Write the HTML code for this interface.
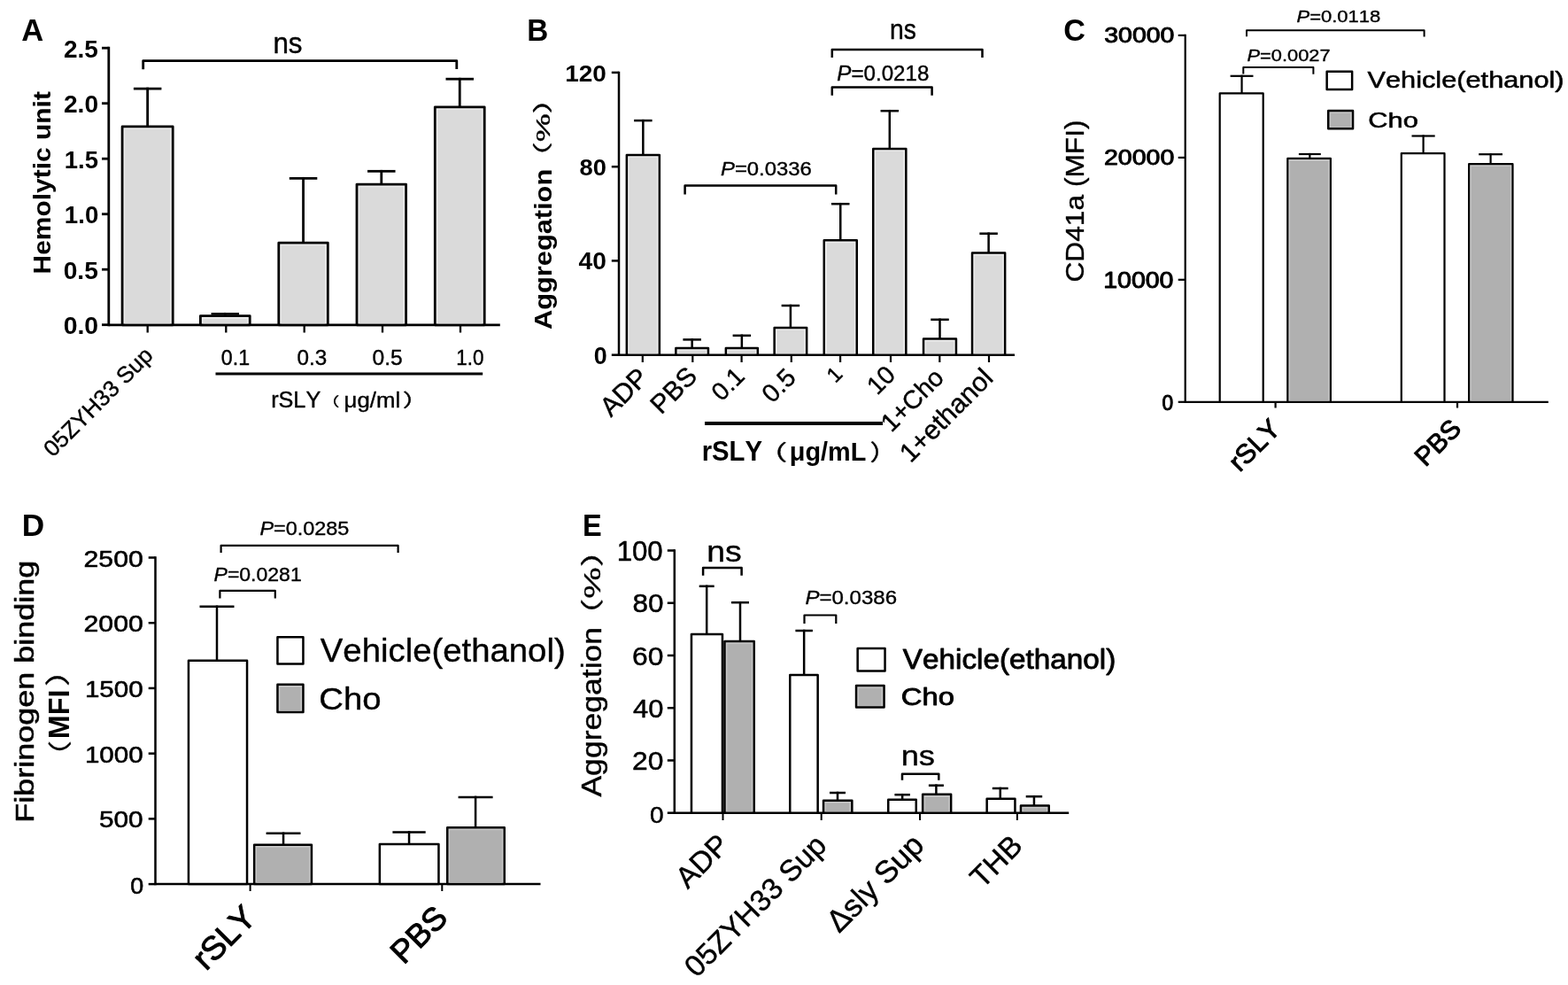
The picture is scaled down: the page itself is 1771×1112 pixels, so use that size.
<!DOCTYPE html>
<html><head><meta charset="utf-8"><title>Figure</title>
<style>
html,body{margin:0;padding:0;background:#fff;}
svg{display:block;}
text{font-family:"Liberation Sans","Noto Sans CJK SC",sans-serif;font-kerning:none;white-space:pre;}
</style></head><body>
<svg width="1771" height="1112" viewBox="0 0 1771 1112">
<rect x="0" y="0" width="1771" height="1112" fill="#fff"/>

<line x1="122.8" y1="52.8" x2="122.8" y2="368.2" stroke="#000" stroke-width="2.8" stroke-linecap="butt"/>
<line x1="115" y1="54.2" x2="122.8" y2="54.2" stroke="#000" stroke-width="2.8" stroke-linecap="butt"/>
<line x1="115" y1="116.7" x2="122.8" y2="116.7" stroke="#000" stroke-width="2.8" stroke-linecap="butt"/>
<line x1="115" y1="179.2" x2="122.8" y2="179.2" stroke="#000" stroke-width="2.8" stroke-linecap="butt"/>
<line x1="115" y1="241.7" x2="122.8" y2="241.7" stroke="#000" stroke-width="2.8" stroke-linecap="butt"/>
<line x1="115" y1="304.2" x2="122.8" y2="304.2" stroke="#000" stroke-width="2.8" stroke-linecap="butt"/>
<line x1="115" y1="366.7" x2="122.8" y2="366.7" stroke="#000" stroke-width="2.8" stroke-linecap="butt"/>
<line x1="122.8" y1="366.8" x2="564.8" y2="366.8" stroke="#000" stroke-width="2.8" stroke-linecap="butt"/>
<line x1="166.7" y1="366.8" x2="166.7" y2="375.5" stroke="#000" stroke-width="2.3" stroke-linecap="butt"/>
<line x1="255.3" y1="366.8" x2="255.3" y2="375.5" stroke="#000" stroke-width="2.3" stroke-linecap="butt"/>
<line x1="343.7" y1="366.8" x2="343.7" y2="375.5" stroke="#000" stroke-width="2.3" stroke-linecap="butt"/>
<line x1="432" y1="366.8" x2="432" y2="375.5" stroke="#000" stroke-width="2.3" stroke-linecap="butt"/>
<line x1="520" y1="366.8" x2="520" y2="375.5" stroke="#000" stroke-width="2.3" stroke-linecap="butt"/>
<line x1="166.65" y1="142.9" x2="166.65" y2="98.7" stroke="#000" stroke-width="2.8" stroke-linecap="butt"/>
<line x1="150.9" y1="100.1" x2="182.4" y2="100.1" stroke="#000" stroke-width="2.8" stroke-linecap="butt"/>
<rect x="138.1" y="142.9" width="57.1" height="223.9" fill="#eeeeee" stroke="#000" stroke-width="2.8" stroke-linejoin="round"/>
<rect x="141.1" y="145.9" width="51.1" height="219.3" fill="#dadada"/>
<line x1="254.3" y1="356.6" x2="254.3" y2="352.9" stroke="#000" stroke-width="2.8" stroke-linecap="butt"/>
<line x1="238.55" y1="354.3" x2="270.05" y2="354.3" stroke="#000" stroke-width="2.8" stroke-linecap="butt"/>
<rect x="226.4" y="356.6" width="55.8" height="10.2" fill="#eeeeee" stroke="#000" stroke-width="2.8" stroke-linejoin="round"/>
<rect x="229.4" y="359.6" width="49.8" height="5.6" fill="#dadada"/>
<line x1="342.55" y1="274.2" x2="342.55" y2="199.9" stroke="#000" stroke-width="2.8" stroke-linecap="butt"/>
<line x1="326.8" y1="201.3" x2="358.3" y2="201.3" stroke="#000" stroke-width="2.8" stroke-linecap="butt"/>
<rect x="314.8" y="274.2" width="55.5" height="92.6" fill="#eeeeee" stroke="#000" stroke-width="2.8" stroke-linejoin="round"/>
<rect x="317.8" y="277.2" width="49.5" height="88" fill="#dadada"/>
<line x1="430.8" y1="208.1" x2="430.8" y2="191.9" stroke="#000" stroke-width="2.8" stroke-linecap="butt"/>
<line x1="415.05" y1="193.3" x2="446.55" y2="193.3" stroke="#000" stroke-width="2.8" stroke-linecap="butt"/>
<rect x="403" y="208.1" width="55.6" height="158.7" fill="#eeeeee" stroke="#000" stroke-width="2.8" stroke-linejoin="round"/>
<rect x="406" y="211.1" width="49.6" height="154.1" fill="#dadada"/>
<line x1="519.25" y1="120.8" x2="519.25" y2="87.8" stroke="#000" stroke-width="2.8" stroke-linecap="butt"/>
<line x1="503.5" y1="89.2" x2="535" y2="89.2" stroke="#000" stroke-width="2.8" stroke-linecap="butt"/>
<rect x="491.3" y="120.8" width="55.9" height="246" fill="#eeeeee" stroke="#000" stroke-width="2.8" stroke-linejoin="round"/>
<rect x="494.3" y="123.8" width="49.9" height="241.4" fill="#dadada"/>
<polyline points="161.7,78.3 161.7,68.6 515.8,68.6 515.8,78.1" fill="none" stroke="#000" stroke-width="2.8" stroke-linejoin="round" stroke-linecap="butt"/>
<line x1="243.5" y1="421.9" x2="545.2" y2="421.9" stroke="#000" stroke-width="3.0" stroke-linecap="butt"/>
<line x1="699" y1="80.65" x2="699" y2="401.95" stroke="#000" stroke-width="2.5" stroke-linecap="butt"/>
<line x1="690.8" y1="81.9" x2="699" y2="81.9" stroke="#000" stroke-width="2.5" stroke-linecap="butt"/>
<line x1="690.8" y1="188.2" x2="699" y2="188.2" stroke="#000" stroke-width="2.5" stroke-linecap="butt"/>
<line x1="690.8" y1="294.4" x2="699" y2="294.4" stroke="#000" stroke-width="2.5" stroke-linecap="butt"/>
<line x1="690.8" y1="400.7" x2="699" y2="400.7" stroke="#000" stroke-width="2.5" stroke-linecap="butt"/>
<line x1="699" y1="400.7" x2="1146" y2="400.7" stroke="#000" stroke-width="2.5" stroke-linecap="butt"/>
<line x1="725.8" y1="400.7" x2="725.8" y2="409" stroke="#000" stroke-width="2.2" stroke-linecap="butt"/>
<line x1="782.3" y1="400.7" x2="782.3" y2="409" stroke="#000" stroke-width="2.2" stroke-linecap="butt"/>
<line x1="837.6" y1="400.7" x2="837.6" y2="409" stroke="#000" stroke-width="2.2" stroke-linecap="butt"/>
<line x1="893.8" y1="400.7" x2="893.8" y2="409" stroke="#000" stroke-width="2.2" stroke-linecap="butt"/>
<line x1="949.1" y1="400.7" x2="949.1" y2="409" stroke="#000" stroke-width="2.2" stroke-linecap="butt"/>
<line x1="1006" y1="400.7" x2="1006" y2="409" stroke="#000" stroke-width="2.2" stroke-linecap="butt"/>
<line x1="1061.3" y1="400.7" x2="1061.3" y2="409" stroke="#000" stroke-width="2.2" stroke-linecap="butt"/>
<line x1="1117" y1="400.7" x2="1117" y2="409" stroke="#000" stroke-width="2.2" stroke-linecap="butt"/>
<line x1="726.35" y1="174.95" x2="726.35" y2="134.85" stroke="#000" stroke-width="2.5" stroke-linecap="butt"/>
<line x1="716.1" y1="136.1" x2="736.6" y2="136.1" stroke="#000" stroke-width="2.5" stroke-linecap="butt"/>
<rect x="707.85" y="174.95" width="37" height="225.75" fill="#eeeeee" stroke="#000" stroke-width="2.5" stroke-linejoin="round"/>
<rect x="710.7" y="177.8" width="31.3" height="221.3" fill="#dadada"/>
<line x1="781.65" y1="392.95" x2="781.65" y2="382.15" stroke="#000" stroke-width="2.5" stroke-linecap="butt"/>
<line x1="771.4" y1="383.4" x2="791.9" y2="383.4" stroke="#000" stroke-width="2.5" stroke-linecap="butt"/>
<rect x="763.35" y="392.95" width="36.6" height="7.75" fill="#eeeeee" stroke="#000" stroke-width="2.5" stroke-linejoin="round"/>
<rect x="766.2" y="395.8" width="30.9" height="3.3" fill="#dadada"/>
<line x1="837.85" y1="392.95" x2="837.85" y2="377.55" stroke="#000" stroke-width="2.5" stroke-linecap="butt"/>
<line x1="827.6" y1="378.8" x2="848.1" y2="378.8" stroke="#000" stroke-width="2.5" stroke-linecap="butt"/>
<rect x="819.85" y="392.95" width="36" height="7.75" fill="#eeeeee" stroke="#000" stroke-width="2.5" stroke-linejoin="round"/>
<rect x="822.7" y="395.8" width="30.3" height="3.3" fill="#dadada"/>
<line x1="892.9" y1="370.05" x2="892.9" y2="343.75" stroke="#000" stroke-width="2.5" stroke-linecap="butt"/>
<line x1="882.65" y1="345" x2="903.15" y2="345" stroke="#000" stroke-width="2.5" stroke-linecap="butt"/>
<rect x="874.65" y="370.05" width="36.5" height="30.65" fill="#eeeeee" stroke="#000" stroke-width="2.5" stroke-linejoin="round"/>
<rect x="877.5" y="372.9" width="30.8" height="26.2" fill="#dadada"/>
<line x1="949.25" y1="271.35" x2="949.25" y2="228.95" stroke="#000" stroke-width="2.5" stroke-linecap="butt"/>
<line x1="939" y1="230.2" x2="959.5" y2="230.2" stroke="#000" stroke-width="2.5" stroke-linecap="butt"/>
<rect x="930.75" y="271.35" width="37" height="129.35" fill="#eeeeee" stroke="#000" stroke-width="2.5" stroke-linejoin="round"/>
<rect x="933.6" y="274.2" width="31.3" height="124.9" fill="#dadada"/>
<line x1="1004.8" y1="167.95" x2="1004.8" y2="123.95" stroke="#000" stroke-width="2.5" stroke-linecap="butt"/>
<line x1="994.55" y1="125.2" x2="1015.05" y2="125.2" stroke="#000" stroke-width="2.5" stroke-linecap="butt"/>
<rect x="986.25" y="167.95" width="37.1" height="232.75" fill="#eeeeee" stroke="#000" stroke-width="2.5" stroke-linejoin="round"/>
<rect x="989.1" y="170.8" width="31.4" height="228.3" fill="#dadada"/>
<line x1="1061.5" y1="382.55" x2="1061.5" y2="359.55" stroke="#000" stroke-width="2.5" stroke-linecap="butt"/>
<line x1="1051.25" y1="360.8" x2="1071.75" y2="360.8" stroke="#000" stroke-width="2.5" stroke-linecap="butt"/>
<rect x="1043.05" y="382.55" width="36.9" height="18.15" fill="#eeeeee" stroke="#000" stroke-width="2.5" stroke-linejoin="round"/>
<rect x="1045.9" y="385.4" width="31.2" height="13.7" fill="#dadada"/>
<line x1="1116.6" y1="285.45" x2="1116.6" y2="262.45" stroke="#000" stroke-width="2.5" stroke-linecap="butt"/>
<line x1="1106.35" y1="263.7" x2="1126.85" y2="263.7" stroke="#000" stroke-width="2.5" stroke-linecap="butt"/>
<rect x="1098.05" y="285.45" width="37.1" height="115.25" fill="#eeeeee" stroke="#000" stroke-width="2.5" stroke-linejoin="round"/>
<rect x="1100.9" y="288.3" width="31.4" height="110.8" fill="#dadada"/>
<polyline points="773.6,219.6 773.6,209.4 944.2,209.4 944.2,219.5" fill="none" stroke="#000" stroke-width="2.5" stroke-linejoin="round" stroke-linecap="butt"/>
<polyline points="939.8,107.8 939.8,98.4 1052.6,98.4 1052.6,107.8" fill="none" stroke="#000" stroke-width="2.5" stroke-linejoin="round" stroke-linecap="butt"/>
<polyline points="939.8,64.9 939.8,55.9 1109.5,55.9 1109.5,64.9" fill="none" stroke="#000" stroke-width="2.5" stroke-linejoin="round" stroke-linecap="butt"/>
<line x1="796" y1="478" x2="997" y2="478" stroke="#000" stroke-width="4.0" stroke-linecap="butt"/>
<line x1="1338.7" y1="38.8" x2="1338.7" y2="454.9" stroke="#000" stroke-width="2.2" stroke-linecap="butt"/>
<line x1="1330.7" y1="39.9" x2="1338.7" y2="39.9" stroke="#000" stroke-width="2.2" stroke-linecap="butt"/>
<line x1="1330.7" y1="177.9" x2="1338.7" y2="177.9" stroke="#000" stroke-width="2.2" stroke-linecap="butt"/>
<line x1="1330.7" y1="315.8" x2="1338.7" y2="315.8" stroke="#000" stroke-width="2.2" stroke-linecap="butt"/>
<line x1="1330.7" y1="453.8" x2="1338.7" y2="453.8" stroke="#000" stroke-width="2.2" stroke-linecap="butt"/>
<line x1="1338.7" y1="453.8" x2="1748.8" y2="453.8" stroke="#000" stroke-width="2.2" stroke-linecap="butt"/>
<line x1="1440.6" y1="453.8" x2="1440.6" y2="460.5" stroke="#000" stroke-width="2.2" stroke-linecap="butt"/>
<line x1="1646" y1="453.8" x2="1646" y2="460.5" stroke="#000" stroke-width="2.2" stroke-linecap="butt"/>
<line x1="1402.55" y1="105.3" x2="1402.55" y2="84.7" stroke="#000" stroke-width="2.2" stroke-linecap="butt"/>
<line x1="1389.6" y1="85.8" x2="1415.5" y2="85.8" stroke="#000" stroke-width="2.2" stroke-linecap="butt"/>
<rect x="1377.7" y="105.3" width="49" height="348.5" fill="#fff" stroke="#000" stroke-width="2.2" stroke-linejoin="round"/>
<line x1="1479.35" y1="178.9" x2="1479.35" y2="172.9" stroke="#000" stroke-width="2.2" stroke-linecap="butt"/>
<line x1="1466.9" y1="174" x2="1491.8" y2="174" stroke="#000" stroke-width="2.2" stroke-linecap="butt"/>
<rect x="1454.3" y="178.9" width="48.6" height="274.9" fill="#c8c8c8" stroke="#000" stroke-width="2.2" stroke-linejoin="round"/>
<rect x="1457" y="181.6" width="43.2" height="270.6" fill="#b0b0b0"/>
<line x1="1607.6" y1="173.2" x2="1607.6" y2="152.4" stroke="#000" stroke-width="2.2" stroke-linecap="butt"/>
<line x1="1594.5" y1="153.5" x2="1620.7" y2="153.5" stroke="#000" stroke-width="2.2" stroke-linecap="butt"/>
<rect x="1582.8" y="173.2" width="48.7" height="280.6" fill="#fff" stroke="#000" stroke-width="2.2" stroke-linejoin="round"/>
<line x1="1683.6" y1="185.2" x2="1683.6" y2="173.1" stroke="#000" stroke-width="2.2" stroke-linecap="butt"/>
<line x1="1670.2" y1="174.2" x2="1697" y2="174.2" stroke="#000" stroke-width="2.2" stroke-linecap="butt"/>
<rect x="1659.1" y="185.2" width="49.4" height="268.6" fill="#c8c8c8" stroke="#000" stroke-width="2.2" stroke-linejoin="round"/>
<rect x="1661.8" y="187.9" width="44" height="264.3" fill="#b0b0b0"/>
<polyline points="1408,41.2 1408,34.3 1608.6,34.3 1608.6,41.5" fill="none" stroke="#000" stroke-width="2.0" stroke-linejoin="round" stroke-linecap="butt"/>
<polyline points="1404.3,83.5 1404.3,76 1483.4,76 1483.4,83.8" fill="none" stroke="#000" stroke-width="2.0" stroke-linejoin="round" stroke-linecap="butt"/>
<rect x="1498.65" y="80.75" width="28.5" height="20.3" fill="#fff" stroke="#000" stroke-width="2.5" stroke-linejoin="round"/>
<rect x="1500.25" y="125.05" width="27.8" height="20.1" fill="#c8c8c8" stroke="#000" stroke-width="2.5" stroke-linejoin="round"/>
<rect x="1503.1" y="127.9" width="22.1" height="15.65" fill="#b0b0b0"/>
<line x1="175.5" y1="628.25" x2="175.5" y2="999.35" stroke="#000" stroke-width="2.5" stroke-linecap="butt"/>
<line x1="167.7" y1="629.5" x2="175.5" y2="629.5" stroke="#000" stroke-width="2.5" stroke-linecap="butt"/>
<line x1="167.7" y1="703.22" x2="175.5" y2="703.22" stroke="#000" stroke-width="2.5" stroke-linecap="butt"/>
<line x1="167.7" y1="776.94" x2="175.5" y2="776.94" stroke="#000" stroke-width="2.5" stroke-linecap="butt"/>
<line x1="167.7" y1="850.66" x2="175.5" y2="850.66" stroke="#000" stroke-width="2.5" stroke-linecap="butt"/>
<line x1="167.7" y1="924.38" x2="175.5" y2="924.38" stroke="#000" stroke-width="2.5" stroke-linecap="butt"/>
<line x1="167.7" y1="998.1" x2="175.5" y2="998.1" stroke="#000" stroke-width="2.5" stroke-linecap="butt"/>
<line x1="175.5" y1="998.1" x2="610.5" y2="998.1" stroke="#000" stroke-width="2.5" stroke-linecap="butt"/>
<line x1="282.6" y1="998.1" x2="282.6" y2="1006" stroke="#000" stroke-width="2.0" stroke-linecap="butt"/>
<line x1="499.3" y1="998.1" x2="499.3" y2="1006" stroke="#000" stroke-width="2.0" stroke-linecap="butt"/>
<line x1="245" y1="745.85" x2="245" y2="683.55" stroke="#000" stroke-width="2.5" stroke-linecap="butt"/>
<line x1="225.5" y1="684.8" x2="264.5" y2="684.8" stroke="#000" stroke-width="2.5" stroke-linecap="butt"/>
<rect x="212.95" y="745.85" width="66.1" height="252.25" fill="#fff" stroke="#000" stroke-width="2.5" stroke-linejoin="round"/>
<line x1="320.05" y1="953.85" x2="320.05" y2="939.55" stroke="#000" stroke-width="2.5" stroke-linecap="butt"/>
<line x1="300.6" y1="940.8" x2="339.5" y2="940.8" stroke="#000" stroke-width="2.5" stroke-linecap="butt"/>
<rect x="287.15" y="953.85" width="64.8" height="44.25" fill="#c8c8c8" stroke="#000" stroke-width="2.5" stroke-linejoin="round"/>
<rect x="290" y="956.7" width="59.1" height="39.8" fill="#b0b0b0"/>
<line x1="462.05" y1="953.05" x2="462.05" y2="938.15" stroke="#000" stroke-width="2.5" stroke-linecap="butt"/>
<line x1="443.4" y1="939.4" x2="480.7" y2="939.4" stroke="#000" stroke-width="2.5" stroke-linecap="butt"/>
<rect x="428.85" y="953.05" width="66.6" height="45.05" fill="#fff" stroke="#000" stroke-width="2.5" stroke-linejoin="round"/>
<line x1="537.1" y1="934.25" x2="537.1" y2="898.65" stroke="#000" stroke-width="2.5" stroke-linecap="butt"/>
<line x1="517.6" y1="899.9" x2="556.6" y2="899.9" stroke="#000" stroke-width="2.5" stroke-linecap="butt"/>
<rect x="505.25" y="934.25" width="64.5" height="63.85" fill="#c8c8c8" stroke="#000" stroke-width="2.5" stroke-linejoin="round"/>
<rect x="508.1" y="937.1" width="58.8" height="59.4" fill="#b0b0b0"/>
<polyline points="249.6,623.9 249.6,615.9 449.6,615.9 449.6,623.9" fill="none" stroke="#000" stroke-width="2.2" stroke-linejoin="round" stroke-linecap="butt"/>
<polyline points="248.4,675.4 248.4,666.8 310.8,666.8 310.8,675.4" fill="none" stroke="#000" stroke-width="2.2" stroke-linejoin="round" stroke-linecap="butt"/>
<rect x="313.45" y="719.15" width="29" height="30.4" fill="#fff" stroke="#000" stroke-width="2.5" stroke-linejoin="round"/>
<rect x="313.45" y="772.85" width="29" height="31.2" fill="#c8c8c8" stroke="#000" stroke-width="2.5" stroke-linejoin="round"/>
<rect x="316.3" y="775.7" width="23.3" height="26.75" fill="#b0b0b0"/>
<line x1="761.8" y1="620.25" x2="761.8" y2="918.95" stroke="#000" stroke-width="2.5" stroke-linecap="butt"/>
<line x1="753.8" y1="621.5" x2="761.8" y2="621.5" stroke="#000" stroke-width="2.5" stroke-linecap="butt"/>
<line x1="753.8" y1="680.74" x2="761.8" y2="680.74" stroke="#000" stroke-width="2.5" stroke-linecap="butt"/>
<line x1="753.8" y1="739.98" x2="761.8" y2="739.98" stroke="#000" stroke-width="2.5" stroke-linecap="butt"/>
<line x1="753.8" y1="799.22" x2="761.8" y2="799.22" stroke="#000" stroke-width="2.5" stroke-linecap="butt"/>
<line x1="753.8" y1="858.46" x2="761.8" y2="858.46" stroke="#000" stroke-width="2.5" stroke-linecap="butt"/>
<line x1="753.8" y1="917.7" x2="761.8" y2="917.7" stroke="#000" stroke-width="2.5" stroke-linecap="butt"/>
<line x1="761.8" y1="917.7" x2="1207.2" y2="917.7" stroke="#000" stroke-width="2.5" stroke-linecap="butt"/>
<line x1="816.5" y1="917.7" x2="816.5" y2="926" stroke="#000" stroke-width="2.0" stroke-linecap="butt"/>
<line x1="927.7" y1="917.7" x2="927.7" y2="926" stroke="#000" stroke-width="2.0" stroke-linecap="butt"/>
<line x1="1039" y1="917.7" x2="1039" y2="926" stroke="#000" stroke-width="2.0" stroke-linecap="butt"/>
<line x1="1148.9" y1="917.7" x2="1148.9" y2="926" stroke="#000" stroke-width="2.0" stroke-linecap="butt"/>
<line x1="798.2" y1="715.95" x2="798.2" y2="660.55" stroke="#000" stroke-width="2.5" stroke-linecap="butt"/>
<line x1="789.7" y1="661.8" x2="806.7" y2="661.8" stroke="#000" stroke-width="2.5" stroke-linecap="butt"/>
<rect x="780.95" y="715.95" width="35" height="201.75" fill="#fff" stroke="#000" stroke-width="2.5" stroke-linejoin="round"/>
<line x1="836" y1="723.95" x2="836" y2="678.95" stroke="#000" stroke-width="2.5" stroke-linecap="butt"/>
<line x1="826" y1="680.2" x2="846" y2="680.2" stroke="#000" stroke-width="2.5" stroke-linecap="butt"/>
<rect x="818.45" y="723.95" width="33.3" height="193.75" fill="#c8c8c8" stroke="#000" stroke-width="2.5" stroke-linejoin="round"/>
<rect x="821.3" y="726.8" width="27.6" height="189.3" fill="#b0b0b0"/>
<line x1="908.15" y1="761.95" x2="908.15" y2="710.75" stroke="#000" stroke-width="2.5" stroke-linecap="butt"/>
<line x1="898.4" y1="712" x2="917.9" y2="712" stroke="#000" stroke-width="2.5" stroke-linecap="butt"/>
<rect x="892.25" y="761.95" width="31.4" height="155.75" fill="#fff" stroke="#000" stroke-width="2.5" stroke-linejoin="round"/>
<line x1="946" y1="903.65" x2="946" y2="893.75" stroke="#000" stroke-width="2.5" stroke-linecap="butt"/>
<line x1="937" y1="895" x2="955" y2="895" stroke="#000" stroke-width="2.5" stroke-linecap="butt"/>
<rect x="930.05" y="903.65" width="32.3" height="14.05" fill="#c8c8c8" stroke="#000" stroke-width="2.5" stroke-linejoin="round"/>
<rect x="932.9" y="906.5" width="26.6" height="9.6" fill="#b0b0b0"/>
<line x1="1019.15" y1="902.85" x2="1019.15" y2="895.95" stroke="#000" stroke-width="2.5" stroke-linecap="butt"/>
<line x1="1010.4" y1="897.2" x2="1027.9" y2="897.2" stroke="#000" stroke-width="2.5" stroke-linecap="butt"/>
<rect x="1003.25" y="902.85" width="31.5" height="14.85" fill="#fff" stroke="#000" stroke-width="2.5" stroke-linejoin="round"/>
<line x1="1057.4" y1="896.85" x2="1057.4" y2="885.45" stroke="#000" stroke-width="2.5" stroke-linecap="butt"/>
<line x1="1048.9" y1="886.7" x2="1065.9" y2="886.7" stroke="#000" stroke-width="2.5" stroke-linecap="butt"/>
<rect x="1042.15" y="896.85" width="32" height="20.85" fill="#c8c8c8" stroke="#000" stroke-width="2.5" stroke-linejoin="round"/>
<rect x="1045" y="899.7" width="26.3" height="16.4" fill="#b0b0b0"/>
<line x1="1129.75" y1="901.85" x2="1129.75" y2="888.75" stroke="#000" stroke-width="2.5" stroke-linecap="butt"/>
<line x1="1120.8" y1="890" x2="1138.7" y2="890" stroke="#000" stroke-width="2.5" stroke-linecap="butt"/>
<rect x="1114.65" y="901.85" width="31.8" height="15.85" fill="#fff" stroke="#000" stroke-width="2.5" stroke-linejoin="round"/>
<line x1="1167.95" y1="909.45" x2="1167.95" y2="897.95" stroke="#000" stroke-width="2.5" stroke-linecap="butt"/>
<line x1="1158.7" y1="899.2" x2="1177.2" y2="899.2" stroke="#000" stroke-width="2.5" stroke-linecap="butt"/>
<rect x="1152.95" y="909.45" width="31.8" height="8.25" fill="#c8c8c8" stroke="#000" stroke-width="2.5" stroke-linejoin="round"/>
<rect x="1155.8" y="912.3" width="26.1" height="3.8" fill="#b0b0b0"/>
<polyline points="794.1,649.8 794.1,640.9 837.6,640.9 837.6,649.8" fill="none" stroke="#000" stroke-width="2.5" stroke-linejoin="round" stroke-linecap="butt"/>
<polyline points="908.5,703.9 908.5,694.5 944.3,694.5 944.3,703.9" fill="none" stroke="#000" stroke-width="2.2" stroke-linejoin="round" stroke-linecap="butt"/>
<polyline points="1019,880.7 1019,873.7 1060.3,873.7 1060.3,880.7" fill="none" stroke="#000" stroke-width="2.5" stroke-linejoin="round" stroke-linecap="butt"/>
<rect x="968.65" y="732.05" width="30.9" height="25.5" fill="#fff" stroke="#000" stroke-width="2.5" stroke-linejoin="round"/>
<rect x="967.05" y="773.95" width="31.5" height="24.5" fill="#c8c8c8" stroke="#000" stroke-width="2.5" stroke-linejoin="round"/>
<rect x="969.9" y="776.8" width="25.8" height="20.05" fill="#b0b0b0"/>
<text transform="matrix(0.34545 0 0 0.34286 24.26 45.80)" font-size="100" fill="#000"><tspan style="font-weight:bold">A</tspan></text>
<text transform="matrix(0.31368 0 0 0.33273 308.40 59.97)" font-size="100" fill="#000" stroke="#000" stroke-width="1.24" stroke-linejoin="round">ns</text>
<text transform="matrix(0.27970 0 0 0.27183 71.96 64.93)" font-size="100" fill="#000"><tspan style="font-weight:bold">2.5</tspan></text>
<text transform="matrix(0.28182 0 0 0.27183 71.95 127.43)" font-size="100" fill="#000"><tspan style="font-weight:bold">2.0</tspan></text>
<text transform="matrix(0.27462 0 0 0.27571 72.85 189.92)" font-size="100" fill="#000"><tspan style="font-weight:bold">1.5</tspan></text>
<text transform="matrix(0.27674 0 0 0.27183 72.84 252.43)" font-size="100" fill="#000"><tspan style="font-weight:bold">1.0</tspan></text>
<text transform="matrix(0.28182 0 0 0.27183 71.67 314.93)" font-size="100" fill="#000"><tspan style="font-weight:bold">0.5</tspan></text>
<text transform="matrix(0.28397 0 0 0.27183 71.66 377.43)" font-size="100" fill="#000"><tspan style="font-weight:bold">0.0</tspan></text>
<text transform="matrix(0 -0.29941 0.27447 0 56.64 309.40)" font-size="100" fill="#000"><tspan style="font-weight:bold">Hemolytic unit</tspan></text>
<text transform="matrix(0.23231 0 0 0.24648 249.87 411.85)" font-size="100" fill="#000" stroke="#000" stroke-width="1.67" stroke-linejoin="round">0.1</text>
<text transform="matrix(0.24275 0 0 0.24648 335.43 411.85)" font-size="100" fill="#000" stroke="#000" stroke-width="1.64" stroke-linejoin="round">0.3</text>
<text transform="matrix(0.24580 0 0 0.24648 420.52 411.85)" font-size="100" fill="#000" stroke="#000" stroke-width="1.63" stroke-linejoin="round">0.5</text>
<text transform="matrix(0.22520 0 0 0.24225 515.30 411.96)" font-size="100" fill="#000" stroke="#000" stroke-width="1.71" stroke-linejoin="round">1.0</text>
<text transform="matrix(0.25258 0 0 0.25493 306.13 460.15)" font-size="100" fill="#000" stroke="#000" stroke-width="1.58" stroke-linejoin="round">rSLY</text>
<text transform="matrix(0.20385 0 0 0.14526 362.93 458.95)" font-size="100" fill="#000" stroke="#000" stroke-width="2.32" stroke-linejoin="round">（</text>
<text transform="matrix(0.25794 0 0 0.23511 388.59 459.96)" font-size="100" fill="#000" stroke="#000" stroke-width="1.62" stroke-linejoin="round">μg/ml</text>
<text transform="matrix(0.29615 0 0 0.20316 454.72 458.57)" font-size="100" fill="#000" stroke="#000" stroke-width="1.63" stroke-linejoin="round">）</text>
<text transform="matrix(0.18217 -0.18217 0.18217 0.18217 59.66 517.07)" font-size="100" fill="#000" stroke="#000" stroke-width="1.55" stroke-linejoin="round">05ZYH33 Sup</text>
<text transform="matrix(0.33279 0 0 0.35217 595.37 45.80)" font-size="100" fill="#000"><tspan style="font-weight:bold">B</tspan></text>
<text transform="matrix(0.27962 0 0 0.26620 638.22 91.53)" font-size="100" fill="#000"><tspan style="font-weight:bold">120</tspan></text>
<text transform="matrix(0.27308 0 0 0.26620 654.58 197.53)" font-size="100" fill="#000"><tspan style="font-weight:bold">80</tspan></text>
<text transform="matrix(0.28208 0 0 0.27324 653.62 304.13)" font-size="100" fill="#000"><tspan style="font-weight:bold">40</tspan></text>
<text transform="matrix(0.26875 0 0 0.27042 670.82 411.13)" font-size="100" fill="#000"><tspan style="font-weight:bold">0</tspan></text>
<text transform="matrix(0.28316 0 0 0.31818 1004.92 44.38)" font-size="100" fill="#000" stroke="#000" stroke-width="1.33" stroke-linejoin="round">ns</text>
<text transform="matrix(0.24151 0 0 0.24648 945.28 90.95)" font-size="100" fill="#000" stroke="#000" stroke-width="1.64" stroke-linejoin="round"><tspan style="font-style:italic">P</tspan>=0.0218</text>
<text transform="matrix(0.23877 0 0 0.22113 813.98 198.18)" font-size="100" fill="#000" stroke="#000" stroke-width="1.74" stroke-linejoin="round"><tspan style="font-style:italic">P</tspan>=0.0336</text>
<text transform="matrix(0 -0.30793 0.28511 0 622.51 372.02)" font-size="100" fill="#000"><tspan style="font-weight:bold">Aggregation</tspan></text>
<text transform="matrix(0 -0.35960 0.22211 0 620.58 196.31)" font-size="100" fill="#000" stroke="#000" stroke-width="1.42" stroke-linejoin="round">（%）</text>
<text transform="matrix(0.29289 0 0 0.31408 792.65 520.29)" font-size="100" fill="#000"><tspan style="font-weight:bold">rSLY</tspan></text>
<text transform="matrix(0.35000 0 0 0.23895 854.35 519.41)" font-size="100" fill="#000" stroke="#000" stroke-width="1.38" stroke-linejoin="round">（</text>
<text transform="matrix(0.28828 0 0 0.30319 891.78 519.83)" font-size="100" fill="#000"><tspan style="font-weight:bold">μg/mL</tspan></text>
<text transform="matrix(0.30385 0 0 0.24842 982.58 519.62)" font-size="100" fill="#000" stroke="#000" stroke-width="1.46" stroke-linejoin="round">）</text>
<text transform="matrix(0.21425 -0.21425 0.21425 0.21425 689.92 471.87)" font-size="100" fill="#000" stroke="#000" stroke-width="1.32" stroke-linejoin="round">ADP</text>
<text transform="matrix(0.21092 -0.21092 0.21092 0.21092 746.87 468.74)" font-size="100" fill="#000" stroke="#000" stroke-width="1.34" stroke-linejoin="round">PBS</text>
<text transform="matrix(0.19853 -0.19853 0.19853 0.19853 815.06 454.01)" font-size="100" fill="#000" stroke="#000" stroke-width="1.42" stroke-linejoin="round">0.1</text>
<text transform="matrix(0.20357 -0.20357 0.20357 0.20357 872.30 456.32)" font-size="100" fill="#000" stroke="#000" stroke-width="1.39" stroke-linejoin="round">0.5</text>
<text transform="matrix(0.17004 -0.17004 0.17004 0.17004 943.46 433.25)" font-size="100" fill="#000" stroke="#000" stroke-width="1.66" stroke-linejoin="round">1</text>
<text transform="matrix(0.20084 -0.20084 0.20084 0.20084 990.71 447.08)" font-size="100" fill="#000" stroke="#000" stroke-width="1.41" stroke-linejoin="round">10</text>
<text transform="matrix(0.20467 -0.20467 0.20467 0.20467 1006.87 488.97)" font-size="100" fill="#000" stroke="#000" stroke-width="1.38" stroke-linejoin="round">1+Cho</text>
<text transform="matrix(0.21480 -0.21480 0.21480 0.21480 1028.38 523.44)" font-size="100" fill="#000" stroke="#000" stroke-width="1.32" stroke-linejoin="round">1+ethanol</text>
<text transform="matrix(0.34154 0 0 0.35211 1201.33 45.75)" font-size="100" fill="#000"><tspan style="font-weight:bold">C</tspan></text>
<text transform="matrix(0.28444 0 0 0.23944 1247.26 48.16)" font-size="100" fill="#000" stroke="#000" stroke-width="3.83" stroke-linejoin="round">30000</text>
<text transform="matrix(0.28550 0 0 0.23803 1246.97 185.86)" font-size="100" fill="#000" stroke="#000" stroke-width="3.84" stroke-linejoin="round">20000</text>
<text transform="matrix(0.28496 0 0 0.25211 1246.22 325.15)" font-size="100" fill="#000" stroke="#000" stroke-width="3.73" stroke-linejoin="round">10000</text>
<text transform="matrix(0.22708 0 0 0.23944 1312.49 462.96)" font-size="100" fill="#000" stroke="#000" stroke-width="4.29" stroke-linejoin="round">0</text>
<text transform="matrix(0.22028 0 0 0.19155 1464.44 24.61)" font-size="100" fill="#000" stroke="#000" stroke-width="1.95" stroke-linejoin="round"><tspan style="font-style:italic">P</tspan>=0.0118</text>
<text transform="matrix(0.21844 0 0 0.19155 1408.54 68.51)" font-size="100" fill="#000" stroke="#000" stroke-width="1.96" stroke-linejoin="round"><tspan style="font-style:italic">P</tspan>=0.0027</text>
<text transform="matrix(0.30741 0 0 0.25851 1544.49 99.17)" font-size="100" fill="#000" stroke="#000" stroke-width="2.13" stroke-linejoin="round">Vehicle(ethanol)</text>
<text transform="matrix(0.30862 0 0 0.24730 1545.26 144.25)" font-size="100" fill="#000" stroke="#000" stroke-width="2.17" stroke-linejoin="round">Cho</text>
<text transform="matrix(0 -0.31711 0.29681 0 1224.17 318.59)" font-size="100" fill="#000" stroke="#000" stroke-width="1.30" stroke-linejoin="round">CD41a (MFI)</text>
<text transform="matrix(0.21468 -0.21468 0.21468 0.21468 1400.21 533.63)" font-size="100" fill="#000" stroke="#000" stroke-width="3.29" stroke-linejoin="round">rSLY</text>
<text transform="matrix(0.21006 -0.21006 0.21006 0.21006 1610.08 527.78)" font-size="100" fill="#000" stroke="#000" stroke-width="3.37" stroke-linejoin="round">PBS</text>
<text transform="matrix(0.35246 0 0 0.34638 24.83 604.80)" font-size="100" fill="#000"><tspan style="font-weight:bold">D</tspan></text>
<text transform="matrix(0.30188 0 0 0.26479 94.59 639.54)" font-size="100" fill="#000" stroke="#000" stroke-width="2.12" stroke-linejoin="round">2500</text>
<text transform="matrix(0.30188 0 0 0.26479 94.59 713.26)" font-size="100" fill="#000" stroke="#000" stroke-width="2.12" stroke-linejoin="round">2000</text>
<text transform="matrix(0.29571 0 0 0.26479 95.93 786.98)" font-size="100" fill="#000" stroke="#000" stroke-width="2.14" stroke-linejoin="round">1500</text>
<text transform="matrix(0.29571 0 0 0.26479 95.93 860.70)" font-size="100" fill="#000" stroke="#000" stroke-width="2.14" stroke-linejoin="round">1000</text>
<text transform="matrix(0.29748 0 0 0.26479 112.01 934.42)" font-size="100" fill="#000" stroke="#000" stroke-width="2.14" stroke-linejoin="round">500</text>
<text transform="matrix(0.26875 0 0 0.26338 147.13 1008.54)" font-size="100" fill="#000" stroke="#000" stroke-width="2.26" stroke-linejoin="round">0</text>
<text transform="matrix(0.23443 0 0 0.21831 293.40 604.48)" font-size="100" fill="#000" stroke="#000" stroke-width="1.77" stroke-linejoin="round"><tspan style="font-style:italic">P</tspan>=0.0285</text>
<text transform="matrix(0.23026 0 0 0.22394 241.51 655.78)" font-size="100" fill="#000" stroke="#000" stroke-width="1.76" stroke-linejoin="round"><tspan style="font-style:italic">P</tspan>=0.0281</text>
<text transform="matrix(0.38336 0 0 0.37234 361.82 746.88)" font-size="100" fill="#000" stroke="#000" stroke-width="1.06" stroke-linejoin="round">Vehicle(ethanol)</text>
<text transform="matrix(0.38333 0 0 0.35135 360.28 801.05)" font-size="100" fill="#000" stroke="#000" stroke-width="1.09" stroke-linejoin="round">Cho</text>
<text transform="matrix(0 -0.35990 0.29149 0 37.68 928.78)" font-size="100" fill="#000" stroke="#000" stroke-width="1.85" stroke-linejoin="round">Fibrinogen binding</text>
<text transform="matrix(0 -0.36538 0.26632 0 77.14 872.41)" font-size="100" fill="#000" stroke="#000" stroke-width="1.28" stroke-linejoin="round">（</text>
<text transform="matrix(0 -0.32327 0.33286 0 77.77 834.26)" font-size="100" fill="#000"><tspan style="font-weight:bold">MFI</tspan></text>
<text transform="matrix(0 -0.38462 0.28105 0 76.49 774.92)" font-size="100" fill="#000" stroke="#000" stroke-width="1.22" stroke-linejoin="round">）</text>
<text transform="matrix(0.26376 -0.26376 0.26376 0.26376 232.67 1096.63)" font-size="100" fill="#000" stroke="#000" stroke-width="2.68" stroke-linejoin="round">rSLY</text>
<text transform="matrix(0.25824 -0.25824 0.25824 0.25824 455.91 1089.80)" font-size="100" fill="#000" stroke="#000" stroke-width="2.74" stroke-linejoin="round">PBS</text>
<text transform="matrix(0.32500 0 0 0.34348 658.12 604.80)" font-size="100" fill="#000"><tspan style="font-weight:bold">E</tspan></text>
<text transform="matrix(0.31226 0 0 0.31127 696.65 632.94)" font-size="100" fill="#000" stroke="#000" stroke-width="1.60" stroke-linejoin="round">100</text>
<text transform="matrix(0.31456 0 0 0.28873 714.39 691.40)" font-size="100" fill="#000" stroke="#000" stroke-width="1.66" stroke-linejoin="round">80</text>
<text transform="matrix(0.31765 0 0 0.28873 714.06 750.64)" font-size="100" fill="#000" stroke="#000" stroke-width="1.65" stroke-linejoin="round">60</text>
<text transform="matrix(0.30857 0 0 0.28873 715.03 809.88)" font-size="100" fill="#000" stroke="#000" stroke-width="1.68" stroke-linejoin="round">40</text>
<text transform="matrix(0.31765 0 0 0.28873 714.06 869.12)" font-size="100" fill="#000" stroke="#000" stroke-width="1.65" stroke-linejoin="round">20</text>
<text transform="matrix(0.28125 0 0 0.26056 733.92 929.19)" font-size="100" fill="#000" stroke="#000" stroke-width="1.85" stroke-linejoin="round">0</text>
<text transform="matrix(0.37368 0 0 0.33455 798.28 633.77)" font-size="100" fill="#000" stroke="#000" stroke-width="1.13" stroke-linejoin="round">ns</text>
<text transform="matrix(0.24066 0 0 0.22394 909.38 681.88)" font-size="100" fill="#000" stroke="#000" stroke-width="1.72" stroke-linejoin="round"><tspan style="font-style:italic">P</tspan>=0.0386</text>
<text transform="matrix(0.36316 0 0 0.32000 1017.66 864.18)" font-size="100" fill="#000" stroke="#000" stroke-width="1.17" stroke-linejoin="round">ns</text>
<text transform="matrix(0.33273 0 0 0.30851 1019.82 754.97)" font-size="100" fill="#000" stroke="#000" stroke-width="2.81" stroke-linejoin="round">Vehicle(ethanol)</text>
<text transform="matrix(0.32816 0 0 0.27432 1017.81 796.28)" font-size="100" fill="#000" stroke="#000" stroke-width="3.00" stroke-linejoin="round">Cho</text>
<text transform="matrix(0 -0.35572 0.31702 0 679.14 899.60)" font-size="100" fill="#000" stroke="#000" stroke-width="1.19" stroke-linejoin="round">Aggregation</text>
<text transform="matrix(0 -0.39934 0.25895 0 678.21 715.55)" font-size="100" fill="#000" stroke="#000" stroke-width="1.24" stroke-linejoin="round">（%）</text>
<text transform="matrix(0.23729 -0.23729 0.23729 0.23729 776.79 1004.41)" font-size="100" fill="#000" stroke="#000" stroke-width="1.19" stroke-linejoin="round">ADP</text>
<text transform="matrix(0.23640 -0.23640 0.23640 0.23640 786.84 1104.69)" font-size="100" fill="#000" stroke="#000" stroke-width="1.20" stroke-linejoin="round">05ZYH33 Sup</text>
<text transform="matrix(0.24842 -0.24842 0.24842 0.24842 947.64 1054.35)" font-size="100" fill="#000" stroke="#000" stroke-width="1.14" stroke-linejoin="round">Δsly Sup</text>
<text transform="matrix(0.23674 -0.23674 0.23674 0.23674 1109.42 1004.14)" font-size="100" fill="#000" stroke="#000" stroke-width="1.19" stroke-linejoin="round">THB</text>
</svg>
</body></html>
